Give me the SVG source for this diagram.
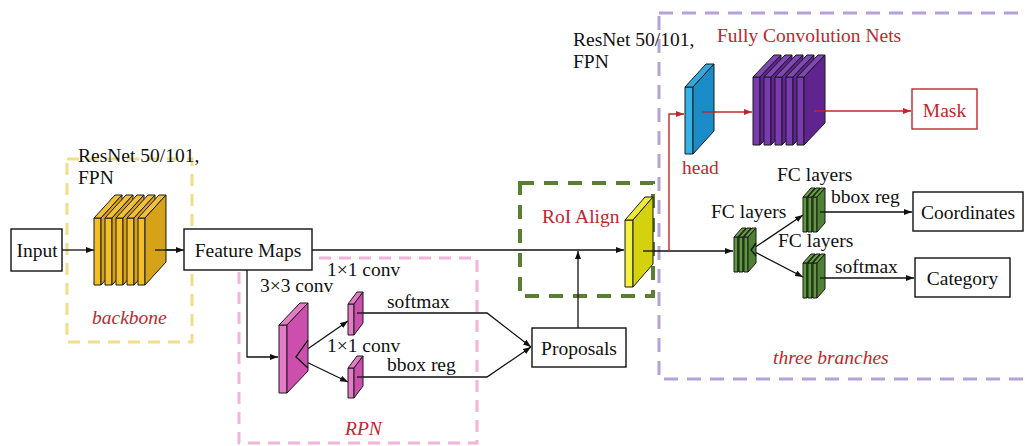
<svg xmlns="http://www.w3.org/2000/svg" width="1025" height="446" viewBox="0 0 1025 446">
  <style>
    .t { font-family: "Liberation Serif", "Times New Roman", serif; font-size: 19.5px; fill: #111; }
    .red { fill: #C0272D; }
    .it { font-style: italic; }
    .mid { text-anchor: middle; }
    .box { fill: #fff; stroke: #111; stroke-width: 1.4; }
    .rbox { fill: #fff; stroke: #C0272D; stroke-width: 1.4; }
    .ln { fill: none; stroke: #111; stroke-width: 1.3; }
    .rln { fill: none; stroke: #C0272D; stroke-width: 1.4; }
    .ol { stroke: #1a1a1a; stroke-width: 1; stroke-linejoin: round; }
    .gold .f { fill: #F4BE26; } .gold .tp { fill: #F2C13A; } .gold .sd { fill: #D6A21A; }
    .pink .f { fill: #E67CC9; } .pink .tp { fill: #E47DC6; } .pink .sd { fill: #CC4FAE; }
    .lime .f { fill: #F3F040; } .lime .tp { fill: #EEEA3A; } .lime .sd { fill: #D4D10E; }
    .blue .f { fill: #35B2E6; } .blue .tp { fill: #33A9DE; } .blue .sd { fill: #1A8DC8; }
    .purp .f { fill: #7A3AB0; } .purp .tp { fill: #8048B4; } .purp .sd { fill: #5F2490; }
    .grn .f { fill: #5E9A3C; } .grn .tp { fill: #65A043; } .grn .sd { fill: #4C8231; }
  </style>
  <defs>
    <marker id="ah" markerUnits="userSpaceOnUse" markerWidth="9" markerHeight="7" refX="8" refY="3" orient="auto">
      <path d="M0,0 L8,3 L0,6 z" fill="#111"/>
    </marker>
    <marker id="ahr" markerUnits="userSpaceOnUse" markerWidth="9" markerHeight="7" refX="8" refY="3" orient="auto">
      <path d="M0,0 L8,3 L0,6 z" fill="#C0272D"/>
    </marker>
  </defs>
  <rect width="1025" height="446" fill="#fff"/>

  <!-- dashed region frames -->
  <g id="regions" fill="none">
    <rect x="67" y="159" width="125" height="183" stroke="#F1DE8A" stroke-width="3" stroke-dasharray="12 8"/>
    <rect x="239" y="258" width="238" height="185" stroke="#F2B4DA" stroke-width="3" stroke-dasharray="12 8"/>
    <rect x="520" y="183" width="133" height="113" stroke="#5A7F32" stroke-width="4" stroke-dasharray="14 10"/>
    <rect x="659" y="13" width="390" height="366" stroke="#B6A2D6" stroke-width="3" stroke-dasharray="14 9"/>
  </g>

  <!-- connectors -->
  <g id="connectors">
    <line class="ln" x1="62" y1="250" x2="94" y2="250" marker-end="url(#ah)"/>
    <line class="ln" x1="155" y1="250" x2="184" y2="250" marker-end="url(#ah)"/>
    <line class="ln" x1="312" y1="250" x2="624" y2="250" marker-end="url(#ah)"/>
    <polyline class="ln" points="247,270 247,357 278,357" marker-end="url(#ah)"/>
    <line class="ln" x1="296" y1="357" x2="348" y2="321" marker-end="url(#ah)"/>
    <line class="ln" x1="296" y1="357" x2="348" y2="382" marker-end="url(#ah)"/>
    <polyline class="ln" points="357,313 487,313 531,347" marker-end="url(#ah)"/>
    <polyline class="ln" points="357,377 487,377 531,347" marker-end="url(#ah)"/>
    <line class="ln" x1="578" y1="328" x2="578" y2="251" marker-end="url(#ah)"/>
    <line class="ln" x1="643" y1="251" x2="733" y2="251" marker-end="url(#ah)"/>
    <line class="ln" x1="751" y1="250" x2="803" y2="215" marker-end="url(#ah)"/>
    <line class="ln" x1="751" y1="250" x2="803" y2="277" marker-end="url(#ah)"/>
    <line class="ln" x1="820" y1="212" x2="912" y2="212" marker-end="url(#ah)"/>
    <line class="ln" x1="820" y1="278" x2="914" y2="278" marker-end="url(#ah)"/>
    <polyline class="rln" points="669,251 669,114 684,114" marker-end="url(#ahr)"/>
    <line class="rln" x1="702" y1="112" x2="752" y2="112" marker-end="url(#ahr)"/>
    <line class="rln" x1="814" y1="111" x2="911" y2="111" marker-end="url(#ahr)"/>
  </g>

  <!-- input and backbone -->
  <g id="input">
    <rect class="box" x="11" y="229" width="51" height="42"/>
    <text class="t mid" x="37" y="257">Input</text>
  </g>
  <g id="backbone" class="gold">
    <text class="t" x="78" y="162">ResNet 50/101,</text>
    <text class="t" x="78" y="184">FPN</text>
    <g class="ol">
      <rect class="f" x="94" y="218" width="7" height="67"/><polygon class="tp" points="94,218 101,218 122,195 115,195"/><polygon class="sd" points="101,218 122,195 122,262 101,285"/>
      <rect class="f" x="105" y="218" width="7" height="67"/><polygon class="tp" points="105,218 112,218 133,195 126,195"/><polygon class="sd" points="112,218 133,195 133,262 112,285"/>
      <rect class="f" x="116" y="218" width="7" height="67"/><polygon class="tp" points="116,218 123,218 144,195 137,195"/><polygon class="sd" points="123,218 144,195 144,262 123,285"/>
      <rect class="f" x="127" y="218" width="7" height="67"/><polygon class="tp" points="127,218 134,218 155,195 148,195"/><polygon class="sd" points="134,218 155,195 155,262 134,285"/>
      <rect class="f" x="138" y="218" width="7" height="67"/><polygon class="tp" points="138,218 145,218 166,195 159,195"/><polygon class="sd" points="145,218 166,195 166,262 145,285"/>
    </g>
    <line class="ln" x1="155" y1="250" x2="176" y2="250"/>
    <text class="t red it" x="92" y="324">backbone</text>
  </g>
  <g id="feature-maps">
    <rect class="box" x="184" y="229" width="128" height="41"/>
    <text class="t mid" x="248" y="257">Feature Maps</text>
  </g>

  <!-- region proposal network -->
  <g id="rpn" class="pink">
    <g class="ol">
      <rect class="f" x="279" y="325" width="8" height="68"/><polygon class="tp" points="279,325 287,325 308,303 300,303"/><polygon class="sd" points="287,325 308,303 308,371 287,393"/>
      <rect class="f" x="348" y="304" width="6" height="31"/><polygon class="tp" points="348,304 354,304 363,292 357,292"/><polygon class="sd" points="354,304 363,292 363,323 354,335"/>
      <rect class="f" x="348" y="368" width="6" height="30"/><polygon class="tp" points="348,368 354,368 363,356 357,356"/><polygon class="sd" points="354,368 363,356 363,386 354,398"/>
    </g>
    <polyline class="ln" points="308,340 296,357 308,368"/>
    <line class="ln" x1="357" y1="313" x2="363" y2="313"/>
    <line class="ln" x1="357" y1="377" x2="363" y2="377"/>
    <text class="t" x="327" y="276">1×1 conv</text>
    <text class="t" x="260" y="292">3×3 conv</text>
    <text class="t" x="387" y="308">softmax</text>
    <text class="t" x="327" y="352">1×1 conv</text>
    <text class="t" x="387" y="371">bbox reg</text>
    <text class="t red it" x="345" y="435">RPN</text>
  </g>
  <g id="proposals">
    <rect class="box" x="532" y="328" width="94" height="39"/>
    <text class="t mid" x="579" y="355">Proposals</text>
  </g>

  <!-- RoI Align -->
  <g id="roi-align" class="lime">
    <text class="t red" x="542" y="223">RoI Align</text>
    <g class="ol">
      <rect class="f" x="625" y="220" width="8" height="67"/><polygon class="tp" points="625,220 633,220 653,197 645,197"/><polygon class="sd" points="633,220 653,197 653,264 633,287"/>
    </g>
    <line class="ln" x1="643" y1="251" x2="653" y2="251"/>
  </g>

  <!-- mask branch -->
  <g id="mask-branch">
    <text class="t" x="573" y="46">ResNet 50/101,</text>
    <text class="t" x="573" y="68">FPN</text>
    <text class="t red" x="717" y="42">Fully Convolution Nets</text>
  </g>
  <g id="head" class="blue">
    <g class="ol">
      <rect class="f" x="685" y="87" width="8" height="67"/><polygon class="tp" points="685,87 693,87 714,64 706,64"/><polygon class="sd" points="693,87 714,64 714,131 693,154"/>
    </g>
    <line class="rln" x1="702" y1="112" x2="714" y2="112"/>
    <text class="t red" x="682" y="174">head</text>
  </g>
  <g id="fcn" class="purp">
    <g class="ol">
      <rect class="f" x="753" y="77" width="7" height="68"/><polygon class="tp" points="753,77 760,77 781,55 774,55"/><polygon class="sd" points="760,77 781,55 781,123 760,145"/>
      <rect class="f" x="764" y="77" width="7" height="68"/><polygon class="tp" points="764,77 771,77 792,55 785,55"/><polygon class="sd" points="771,77 792,55 792,123 771,145"/>
      <rect class="f" x="775" y="77" width="7" height="68"/><polygon class="tp" points="775,77 782,77 803,55 796,55"/><polygon class="sd" points="782,77 803,55 803,123 782,145"/>
      <rect class="f" x="786" y="77" width="7" height="68"/><polygon class="tp" points="786,77 793,77 814,55 807,55"/><polygon class="sd" points="793,77 814,55 814,123 793,145"/>
      <rect class="f" x="797" y="77" width="7" height="68"/><polygon class="tp" points="797,77 804,77 825,55 818,55"/><polygon class="sd" points="804,77 825,55 825,123 804,145"/>
    </g>
    <line class="rln" x1="814" y1="111" x2="825" y2="111"/>
  </g>
  <g id="mask">
    <rect class="rbox" x="912" y="89" width="65" height="40"/>
    <text class="t red mid" x="944.5" y="117">Mask</text>
  </g>

  <!-- fully connected branches -->
  <g id="fc-shared" class="grn">
    <g class="ol">
      <rect class="f" x="734" y="237" width="4" height="35"/><polygon class="tp" points="734,237 738,237 746,228 742,228"/><polygon class="sd" points="738,237 746,228 746,263 738,272"/>
      <rect class="f" x="739" y="237" width="4" height="35"/><polygon class="tp" points="739,237 743,237 751,228 747,228"/><polygon class="sd" points="743,237 751,228 751,263 743,272"/>
      <rect class="f" x="744" y="237" width="4" height="35"/><polygon class="tp" points="744,237 748,237 756,228 752,228"/><polygon class="sd" points="748,237 756,228 756,263 748,272"/>
    </g>
    <polyline class="ln" points="756,243 751,250 756,256"/>
    <text class="t" x="711" y="218">FC layers</text>
  </g>
  <g id="fc-bbox" class="grn">
    <g class="ol">
      <rect class="f" x="803" y="197" width="4" height="35"/><polygon class="tp" points="803,197 807,197 815,188 811,188"/><polygon class="sd" points="807,197 815,188 815,223 807,232"/>
      <rect class="f" x="808" y="197" width="4" height="35"/><polygon class="tp" points="808,197 812,197 820,188 816,188"/><polygon class="sd" points="812,197 820,188 820,223 812,232"/>
      <rect class="f" x="813" y="197" width="4" height="35"/><polygon class="tp" points="813,197 817,197 825,188 821,188"/><polygon class="sd" points="817,197 825,188 825,223 817,232"/>
    </g>
    <line class="ln" x1="820" y1="212" x2="825" y2="212"/>
    <text class="t" x="777" y="181">FC layers</text>
    <text class="t" x="831" y="203">bbox reg</text>
  </g>
  <g id="fc-cls" class="grn">
    <g class="ol">
      <rect class="f" x="803" y="263" width="4" height="35"/><polygon class="tp" points="803,263 807,263 815,254 811,254"/><polygon class="sd" points="807,263 815,254 815,289 807,298"/>
      <rect class="f" x="808" y="263" width="4" height="35"/><polygon class="tp" points="808,263 812,263 820,254 816,254"/><polygon class="sd" points="812,263 820,254 820,289 812,298"/>
      <rect class="f" x="813" y="263" width="4" height="35"/><polygon class="tp" points="813,263 817,263 825,254 821,254"/><polygon class="sd" points="817,263 825,254 825,289 817,298"/>
    </g>
    <line class="ln" x1="820" y1="278" x2="825" y2="278"/>
    <text class="t" x="778" y="247">FC layers</text>
    <text class="t" x="835" y="273">softmax</text>
  </g>
  <g id="coordinates">
    <rect class="box" x="913" y="192" width="110" height="39"/>
    <text class="t mid" x="968" y="219">Coordinates</text>
  </g>
  <g id="category">
    <rect class="box" x="915" y="258" width="95" height="39"/>
    <text class="t mid" x="962.5" y="285">Category</text>
  </g>
  <text class="t red it" x="773" y="364">three branches</text>
</svg>
